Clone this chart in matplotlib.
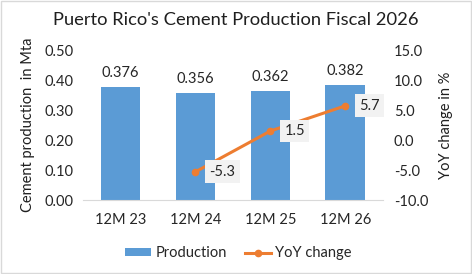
import matplotlib
matplotlib.use("Agg")
import matplotlib.pyplot as plt
from matplotlib.lines import Line2D
from matplotlib.patches import Patch

categories = ["12M 23", "12M 24", "12M 25", "12M 26"]
production = [0.376, 0.356, 0.362, 0.382]
yoy_x = ["12M 24", "12M 25", "12M 26"]
yoy = [-5.3, 1.5, 5.7]
left_ticks = [0.0, 0.1, 0.2, 0.3, 0.4, 0.5]
right_ticks = [-10, -5, 0, 5, 10, 15]

plt.rcParams['font.family'] = ['Lato', 'DejaVu Sans']
txt = '#1f1f1f'
lab = '#262626'
blue = '#5B9BD5'
orange = '#ED7D31'

fig = plt.figure(figsize=(4.72, 2.74), dpi=100)
fig.patch.set_facecolor('white')
ax = fig.add_axes([0.176, 0.27, 0.635, 0.5475])
x = list(range(len(categories)))
ax.bar(x, production, width=0.53, color=blue, zorder=2)
ax.set_xlim(-0.5, len(categories) - 0.5)
ax.set_ylim(0, 0.5)
ax.set_yticks(left_ticks)
ax.set_yticklabels([f"{v:.2f}" for v in left_ticks])
ax.set_xticks(x)
ax.set_xticklabels(categories)
for s in ['top', 'right', 'left']:
    ax.spines[s].set_visible(False)
ax.spines['bottom'].set_color('#D9D9D9')
ax.tick_params(axis='both', length=0, labelsize=10.5, colors=lab, pad=7)
ax.tick_params(axis='x', pad=9)
ax.set_ylabel("Cement production  in Mta", fontsize=10.5, color=txt, labelpad=7)
for xi, v in zip(x, production):
    ax.text(xi, v + 0.025, f"{v:.3f}", ha='center', va='bottom', fontsize=10.5, color=lab)

ax2 = ax.twinx()
ax2.set_ylim(-10, 15)
ax2.set_yticks(right_ticks)
ax2.set_yticklabels([f"{v:.1f}" for v in right_ticks])
for s in ['top', 'right', 'left', 'bottom']:
    ax2.spines[s].set_visible(False)
ax2.tick_params(axis='y', length=0, labelsize=10.5, colors=lab, pad=8)
ax2.set_ylabel("YoY change in %", fontsize=10.5, color=txt, labelpad=8)
xl = [categories.index(c) for c in yoy_x]
ax2.plot(xl, yoy, color=orange, lw=2.2, marker='o', ms=4.5, zorder=3)
for xi, v in zip(xl, yoy):
    ax2.annotate(f"{v:.1f}", (xi, v), xytext=(10, 0), textcoords='offset points',
                 ha='left', va='center', fontsize=10.5, color=lab,
                 bbox=dict(boxstyle='square,pad=0.3', fc='#F2F2F2', ec='none'), zorder=4)

fig.suptitle("Puerto Rico's Cement Production Fiscal 2026", y=0.955, fontsize=13.2, color=txt)

handles = [Patch(facecolor=blue), Line2D([0], [0], color=orange, lw=2.2, marker='o', ms=4.5)]
fig.legend(handles, ["Production", "YoY change"], loc='center', bbox_to_anchor=(0.505, 0.075),
           ncol=2, frameon=False, fontsize=10.5, handlelength=1.8, handleheight=0.5,
           columnspacing=1.2, handletextpad=0.3, labelcolor=lab)

fig.add_artist(plt.Rectangle((0.002, 0.003), 0.995, 0.993, transform=fig.transFigure,
                             fill=False, ec='#D9D9D9', lw=1))
fig.savefig("out.png", dpi=100)
